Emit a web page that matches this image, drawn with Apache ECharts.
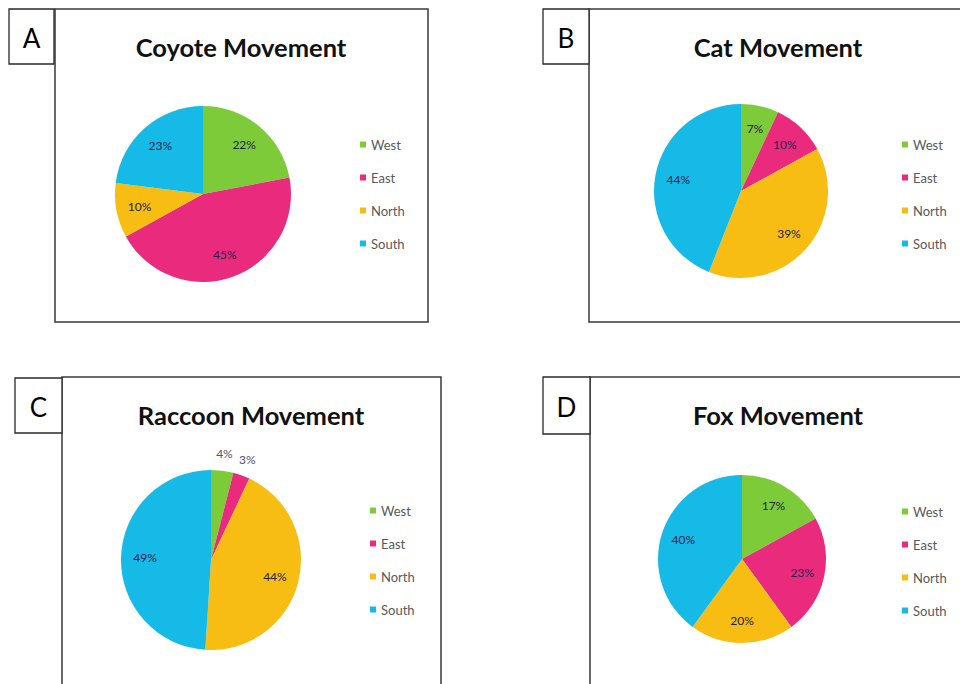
<!DOCTYPE html>
<html>
<head>
<meta charset="utf-8">
<script src="https://cdn.jsdelivr.net/npm/echarts@6/dist/echarts.min.js"></script>
<style>
  html, body { margin: 0; padding: 0; background: #ffffff; }
  #chart { width: 960px; height: 684px; }
</style>
</head>
<body>
<div id="chart"></div>
<script>
// Direction categories shared by every panel
const directions = ['West', 'East', 'North', 'South'];

// Share of movement (%) per direction, one array per animal
const coyoteValues = [22, 45, 10, 23];
const catValues = [7, 10, 39, 44];
const raccoonValues = [4, 3, 44, 49];
const foxValues = [17, 23, 20, 40];

const panelTitles = ['Coyote Movement', 'Cat Movement', 'Raccoon Movement', 'Fox Movement'];
const panelLetters = ['A', 'B', 'C', 'D'];

const sliceColors = ['#7DCB38', '#EA2A7C', '#F8BD12', '#16BAE7'];
const FONT = 'Lato, "Open Sans", sans-serif';

// Geometry of each panel: frame, letter tag, title, pie and legend
const panels = [
  { values: coyoteValues,  frame: [55, 9, 373, 313],  tag: [9, 9, 45, 55],    titleAt: [241, 47],
    center: [203, 194], r: 88, legendAt: [360, 138], outside: [] },
  { values: catValues,     frame: [589, 9, 420, 313], tag: [543, 9, 46, 55],   titleAt: [778, 47],
    center: [741, 191], r: 87, legendAt: [902, 138], outside: [] },
  { values: raccoonValues, frame: [62, 377, 379, 340], tag: [15, 378, 47, 55], titleAt: [251, 415],
    center: [211, 560], r: 90, legendAt: [370, 504], outside: [0, 1] },
  { values: foxValues,     frame: [590, 377, 420, 340], tag: [543, 377, 47, 57], titleAt: [778, 415],
    center: [742, 559], r: 84, legendAt: [902, 505], outside: [] }
];

const chart = echarts.init(document.getElementById('chart'), null, { renderer: 'svg' });

const graphics = [];
const legends = [];
const mainSeries = [];
const labelSeries = [];

const labelStyle = { color: '#22224E', fontSize: 12, fontFamily: FONT };

panels.forEach(function (p, i) {
  // panel frame
  graphics.push({
    type: 'rect', silent: true,
    shape: { x: p.frame[0], y: p.frame[1], width: p.frame[2], height: p.frame[3] },
    style: { fill: '#ffffff', stroke: '#3a3a3a', lineWidth: 1.5 }
  });
  // letter tag
  graphics.push({
    type: 'rect', silent: true,
    shape: { x: p.tag[0], y: p.tag[1], width: p.tag[2], height: p.tag[3] },
    style: { fill: '#ffffff', stroke: '#2a2a2a', lineWidth: 1.3 }
  });
  graphics.push({
    type: 'text', silent: true,
    x: p.tag[0] + p.tag[2] / 2, y: p.tag[1] + p.tag[3] / 2 + 1,
    style: { text: panelLetters[i], fill: '#000000', font: '26px ' + FONT,
             align: 'center', verticalAlign: 'middle' }
  });
  // title
  graphics.push({
    type: 'text', silent: true,
    x: p.titleAt[0], y: p.titleAt[1],
    style: { text: panelTitles[i], fill: '#111111', font: 'bold 25.5px ' + FONT,
             align: 'center', verticalAlign: 'middle' }
  });

  const items = directions.map(function (d, k) {
    return { name: d, value: p.values[k], itemStyle: { color: sliceColors[k] } };
  });

  mainSeries.push({
    type: 'pie', name: panelTitles[i],
    center: p.center, radius: [0, p.r],
    startAngle: 90, clockwise: true,
    label: { show: false }, labelLine: { show: false },
    emphasis: { disabled: true },
    itemStyle: { borderWidth: 0 },
    data: items
  });

  // transparent twin rings that carry the percentage labels
  const inner = directions.map(function (d, k) {
    return { name: d, value: p.values[k], label: { show: p.outside.indexOf(k) < 0 } };
  });
  labelSeries.push({
    type: 'pie', silent: true, center: p.center, radius: [0, p.r * 1.4],
    startAngle: 90, clockwise: true,
    itemStyle: { color: 'rgba(0,0,0,0)' },
    label: Object.assign({ show: true, position: 'inside', formatter: '{c}%' }, labelStyle),
    labelLine: { show: false }, emphasis: { disabled: true },
    data: inner
  });
  if (p.outside.length) {
    const outer = directions.map(function (d, k) {
      return { name: d, value: p.values[k], label: { show: p.outside.indexOf(k) >= 0 } };
    });
    labelSeries.push({
      type: 'pie', silent: true, center: p.center, radius: [0, (p.r + 14) * 2],
      startAngle: 90, clockwise: true,
      itemStyle: { color: 'rgba(0,0,0,0)' },
      label: Object.assign({ show: true, position: 'inside', formatter: '{c}%' }, labelStyle,
                           { color: '#55506A' }),
      labelLine: { show: false }, emphasis: { disabled: true },
      data: outer
    });
  }

  legends.push({
    orient: 'vertical', left: p.legendAt[0], top: p.legendAt[1],
    padding: 0,
    itemWidth: 6, itemHeight: 6, itemGap: 20, icon: 'rect',
    selectedMode: false,
    textStyle: { color: '#595959', fontSize: 13, fontFamily: FONT },
    data: directions
  });
});

chart.setOption({
  backgroundColor: '#ffffff',
  animation: false,
  graphic: { elements: graphics },
  legend: legends,
  series: mainSeries.concat(labelSeries)
});
</script>
</body>
</html>
